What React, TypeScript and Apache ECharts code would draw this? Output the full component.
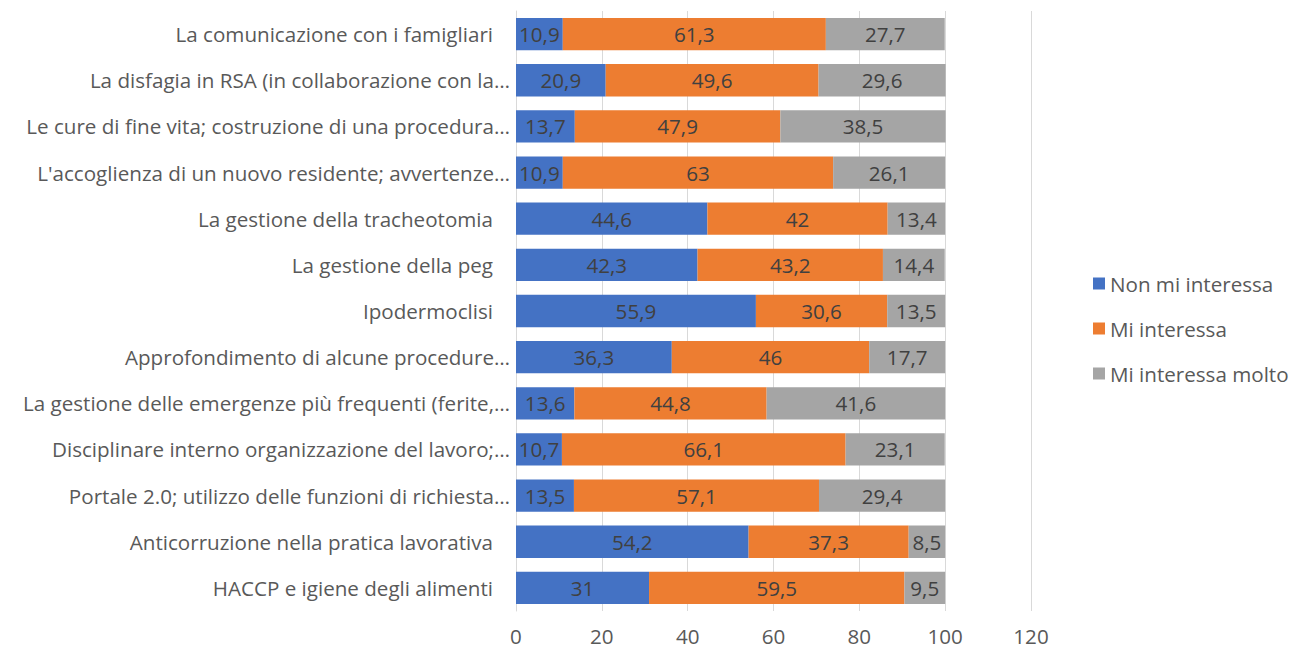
import React, { useEffect, useRef } from "react";
import * as echarts from "echarts";

const categories = [
  "La comunicazione con i famigliari",
  "La disfagia in RSA (in collaborazione con la…",
  "Le cure di fine vita; costruzione di una procedura…",
  "L'accoglienza di un nuovo residente; avvertenze…",
  "La gestione della tracheotomia",
  "La gestione della peg",
  "Ipodermoclisi",
  "Approfondimento di alcune procedure…",
  "La gestione delle emergenze più frequenti (ferite,…",
  "Disciplinare interno organizzazione del lavoro;…",
  "Portale 2.0; utilizzo delle funzioni di richiesta…",
  "Anticorruzione nella pratica lavorativa",
  "HACCP e igiene degli alimenti",
];
const nonMiInteressa = [10.9, 20.9, 13.7, 10.9, 44.6, 42.3, 55.9, 36.3, 13.6, 10.7, 13.5, 54.2, 31];
const miInteressa = [61.3, 49.6, 47.9, 63, 42, 43.2, 30.6, 46, 44.8, 66.1, 57.1, 37.3, 59.5];
const miInteressaMolto = [27.7, 29.6, 38.5, 26.1, 13.4, 14.4, 13.5, 17.7, 41.6, 23.1, 29.4, 8.5, 9.5];
const seriesNames = ["Non mi interessa", "Mi interessa", "Mi interessa molto"];
const colors = ["#4472C4", "#ED7D31", "#A5A5A5"];

const FONT = "Open Sans";
const FS = 20.6;

export default function App() {
  const ref = useRef<HTMLDivElement>(null);
  useEffect(() => {
    if (!ref.current) return;
    const chart = echarts.init(ref.current, undefined, { renderer: "svg" });
    const values = [nonMiInteressa, miInteressa, miInteressaMolto];
    chart.setOption({
      animation: false,
      textStyle: { fontFamily: FONT },
      grid: { left: 516, right: 262, top: 11, bottom: 41, containLabel: false },
      legend: {
        orient: "vertical",
        left: 1088,
        top: 268,
        itemWidth: 12,
        itemHeight: 12,
        itemGap: 24,
        icon: "rect",
        textStyle: { fontSize: FS, color: "#595959", fontFamily: FONT },
        data: seriesNames,
      },
      xAxis: {
        type: "value",
        min: 0,
        max: 120,
        interval: 20,
        axisLine: { show: false },
        axisTick: { show: false },
        splitLine: { lineStyle: { color: "#D9D9D9", width: 1 } },
        axisLabel: { fontSize: FS, color: "#595959", margin: 14, fontFamily: FONT },
      },
      yAxis: {
        type: "category",
        inverse: true,
        data: categories,
        axisLine: { show: true, lineStyle: { color: "#D9D9D9" } },
        axisTick: { show: false },
        axisLabel: {
          fontSize: FS,
          color: "#595959",
          margin: 6,
          fontFamily: FONT,
          formatter: (v: string) => (v.endsWith("…") ? v : "{p|" + v + "}"),
          rich: { p: { fontSize: FS, color: "#595959", fontFamily: FONT, padding: [0, 17, 0, 0] } },
        },
      },
      series: seriesNames.map((name, i) => ({
        name,
        type: "bar",
        stack: "total",
        data: values[i],
        barCategoryGap: "30%",
        itemStyle: { color: colors[i] },
        label: {
          show: true,
          position: "inside",
          fontSize: FS,
          color: "#404040",
          fontFamily: FONT,
          formatter: (p: any) => String(p.value).replace(".", ","),
        },
      })),
    });
    return () => chart.dispose();
  }, []);
  return <div ref={ref} style={{ width: 1293, height: 652, position: "absolute", left: 0, top: 0 }} />;
}
